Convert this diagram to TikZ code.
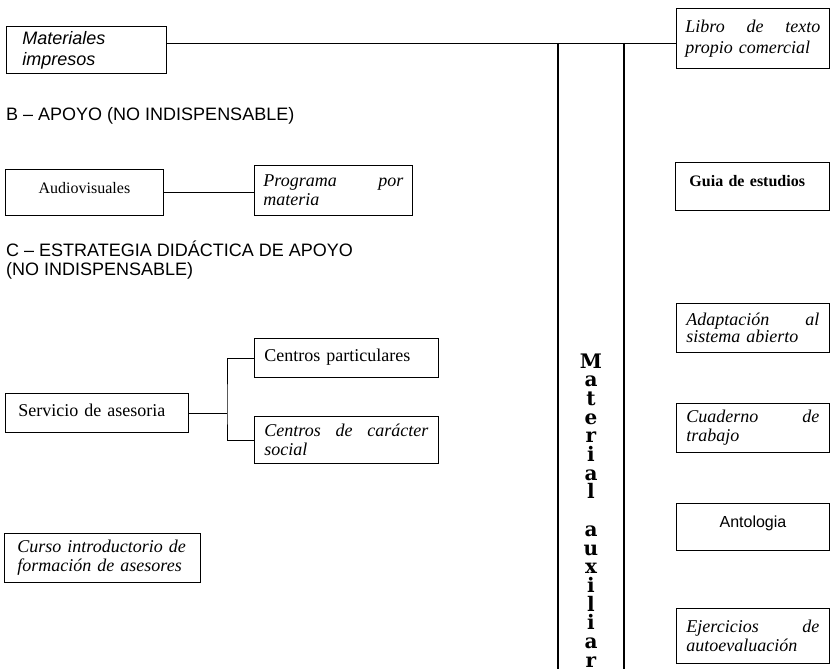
\documentclass[tikz,border=0pt]{standalone}
\usepackage{fontspec}
\setmainfont{Liberation Serif}
\setsansfont{Liberation Sans}
\newfontfamily\slabfont{DejaVu Serif}
\tikzset{
	box/.style={draw, line width=0.9pt, anchor=north west, inner xsep=9pt, inner ysep=0pt, align=left, font=\fontsize{18}{19}\selectfont},
	slanted/.style={font=\itshape\fontsize{18}{19}\selectfont},
	heading/.style={anchor=base west, inner sep=0pt, align=left, font=\sffamily\fontsize{18}{19}\selectfont},
	letter/.style={anchor=base, inner sep=0pt, font=\slabfont\bfseries\fontsize{20}{19}\selectfont},
	column/.style={line width=1.6pt},
	link/.style={line width=0.9pt}
}
\begin{document}
\begin{tikzpicture}[x=1pt, y=-1pt]
	\useasboundingbox (0,0) rectangle (830,669);
	% Bloque A
	\node[box, inner xsep=16pt, text width=128pt, minimum height=47pt, font=\sffamily\itshape\fontsize{18}{21}\selectfont] (mat) at (6,26) {Materiales\\impresos};
	\node[box, slanted, text width=135pt, minimum height=60pt, font=\itshape\fontsize{18}{21}\selectfont] (libro) at (676,8) {Libro\hfill de\hfill texto\\propio comercial};
	\coordinate (topl) at (558,43);
	\coordinate (topr) at (624,43);
	\coordinate (bottom) at (0,669);
	\draw[link] (mat.east |- topl) -- (libro.west |- topl);
	\draw[column] (topl) -- (topl |- bottom);
	\draw[column] (topr) -- (topr |- bottom);
	% Columna central
	\foreach \ch [count=\i] in {M,a,t,e,r,i,a,l,{},a,u,x,i,l,i,a,r}
		\node[letter] (let-\i) at (591, {349.3+18.7*\i}) {\ch};
	% Bloque B
	\node[heading] (hb) at (6,121) {B -- APOYO (NO INDISPENSABLE)};
	\node[box, text width=140pt, minimum height=46pt, align=center, text depth=9pt, font=\fontsize{16}{19}\selectfont] (audio) at (5,169) {Audiovisuales};
	\node[box, slanted, text width=140pt, minimum height=50pt] (prog) at (254,165) {Programa\hfill por\\materia};
	\draw[link] (audio.east) -- (audio.east -| prog.west);
	% Bloque C
	\node[heading] (hc) at (6,275) {C -- ESTRATEGIA DIDÁCTICA DE APOYO\\(NO INDISPENSABLE)};
	\node[box, inner xsep=13pt, text width=157pt, minimum height=39pt, text depth=6pt] (serv) at (5,393) {Servicio de asesoria};
	\node[box, inner xsep=10pt, text width=164pt, minimum height=39pt, text depth=6pt] (cpart) at (254,338) {Centros particulares};
	\node[box, slanted, inner xsep=10pt, text width=164pt, minimum height=47pt] (csoc) at (254,416) {Centros\hfill de\hfill carácter\\social};
	\coordinate (branch) at (227,409);
	\draw[link] (serv.east) -- (serv.east -| branch);
	\draw[link] (cpart.west) -| (branch) |- (csoc.west);
	\node[box, slanted, inner xsep=13pt, text width=170pt, minimum height=49pt] (curso) at (4,533) {Curso introductorio de\\formación de asesores};
	% Materiales a la derecha
	\node[box, inner xsep=14pt, text width=126pt, minimum height=48pt, text depth=11pt, font=\bfseries\fontsize{16}{19}\selectfont] (guia) at (675,162) {Guia de estudios};
	\node[box, slanted, inner xsep=10pt, text width=133pt, minimum height=49pt, font=\itshape\fontsize{18}{17}\selectfont] (adapt) at (676,303) {Adaptación\hfill al\\sistema abierto};
	\node[box, slanted, inner xsep=10pt, text width=133pt, minimum height=49pt] (cuad) at (676,403) {Cuaderno\hfill de\\trabajo};
	\node[box, text width=135pt, minimum height=47pt, align=center, text depth=10pt, font=\sffamily\fontsize{16}{19}\selectfont] (anto) at (676,503) {Antologia};
	\node[box, slanted, inner xsep=10pt, text width=133pt, minimum height=55pt] (ejer) at (676,608) {Ejercicios\hfill de\\autoevaluación};
\end{tikzpicture}
\end{document}
